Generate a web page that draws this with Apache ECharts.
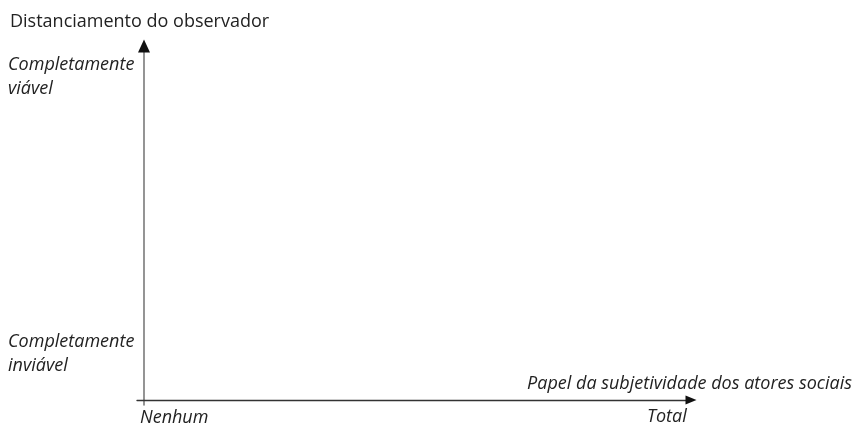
<!DOCTYPE html>
<html>
<head>
<meta charset="utf-8">
<script src="https://cdn.jsdelivr.net/npm/echarts@6/dist/echarts.min.js"></script>
<style>html,body{margin:0;padding:0;background:#fff}#c{width:853px;height:425px}</style>
</head>
<body>
<div id="c"></div>
<script>
// Conceptual chart: axes only, no data series
var yTitle = 'Distanciamento do observador';
var xTitle = 'Papel da subjetividade dos atores sociais';
var yTickLabels = ['Completamente\ninviável', 'Completamente\nviável'];
var xTickLabels = ['Nenhum', 'Total'];
var xRange = [-0.0128, 1];
var yRange = [-0.0141, 1];
// arrowhead anchor points at the axis ends: [x, y]
var yArrowPoint = [[0, 1]];
var xArrowPoint = [[1, 0]];

var chart = echarts.init(document.getElementById('c'), null, {renderer: 'canvas'});
var FONT = '"Open Sans", sans-serif';
var option = {
  animation: false,
  grid: {left: 137, right: 162, top: 46, bottom: 20, containLabel: false},
  xAxis: {
    type: 'value', min: xRange[0], max: xRange[1],
    axisLine: {onZero: true, lineStyle: {color: '#333', width: 1.3}},
    axisTick: {show: false}, axisLabel: {show: false}, splitLine: {show: false}
  },
  yAxis: {
    type: 'value', min: yRange[0], max: yRange[1],
    axisLine: {onZero: true, lineStyle: {color: '#7a7a7a', width: 1.6}},
    axisTick: {show: false}, axisLabel: {show: false}, splitLine: {show: false}
  },
  series: [
    {type: 'scatter', data: yArrowPoint, symbol: 'triangle', symbolSize: [12, 13], clip: false,
     itemStyle: {color: '#111', opacity: 1}, silent: true, z: 10},
    {type: 'scatter', data: xArrowPoint, symbol: 'triangle', symbolSize: [9, 11], symbolRotate: -90, clip: false,
     itemStyle: {color: '#111', opacity: 1}, silent: true, z: 10}
  ],
  graphic: [
    {type: 'text', left: 10, top: 10, style: {text: yTitle, font: '18px ' + FONT, fill: '#222', lineHeight: 24}},
    {type: 'text', left: 8, top: 53, style: {text: yTickLabels[1], font: 'italic 18px ' + FONT, fill: '#222', lineHeight: 24}},
    {type: 'text', left: 8, top: 330, style: {text: yTickLabels[0], font: 'italic 18px ' + FONT, fill: '#222', lineHeight: 24}},
    {type: 'text', left: 140, top: 406, style: {text: xTickLabels[0], font: 'italic 18px ' + FONT, fill: '#222', lineHeight: 24}},
    {type: 'text', left: 647, top: 405, style: {text: xTickLabels[1], font: 'italic 18px ' + FONT, fill: '#222', lineHeight: 24}},
    {type: 'text', right: 1, top: 372, style: {text: xTitle, font: 'italic 18px ' + FONT, fill: '#222', lineHeight: 24}}
  ]
};
chart.setOption(option);
</script>
</body>
</html>
